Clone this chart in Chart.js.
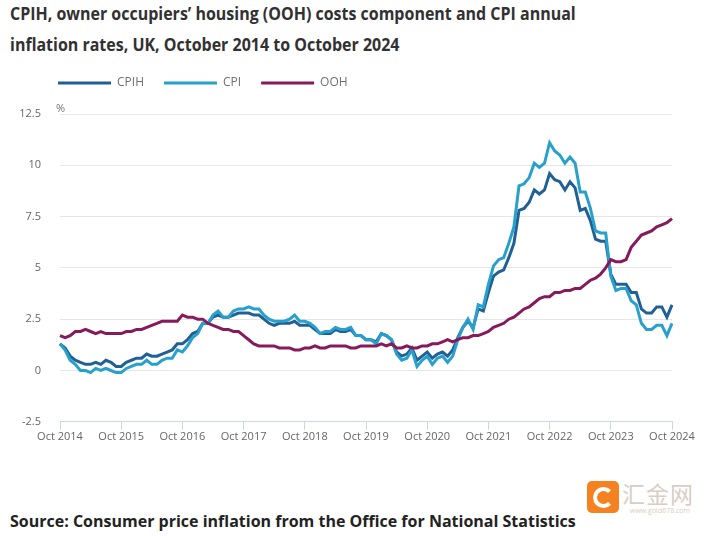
<!DOCTYPE html>
<html>
<head>
<meta charset="utf-8">
<script src="https://cdn.jsdelivr.net/npm/chart.js@4.4.1/dist/chart.umd.min.js"></script>
<style>
  body { margin: 0; background: #fff; font-family: "Open Sans", sans-serif; }
  #page { position: relative; width: 707px; height: 536px; overflow: hidden; }
  #title { position: absolute; left: 10px; top: -2px; margin: 0; font-size: 17px; font-weight: 700; line-height: 31px; color: #323132; white-space: nowrap; transform: scaleX(0.94); transform-origin: 0 0; }
  #wrap { position: absolute; left: 0; top: 55px; width: 707px; height: 400px; }
  #unit { position: absolute; left: 56px; top: 100px; font-size: 11px; color: #707070; }
  #source { position: absolute; left: 10px; top: 510px; font-size: 16px; font-weight: 700; color: #222; }
  #logo { position: absolute; left: 587px; top: 481px; width: 32px; height: 32px; border-radius: 5px; background: #f58220; }
  #logo div { position: absolute; left: 6px; top: 6px; width: 13px; height: 13px; border: 4px solid #fff; border-radius: 50%; border-right-color: transparent; }
  #mark { position: absolute; left: 622px; top: 476px; font-family: "Noto Sans CJK SC", sans-serif; font-size: 23px; color: #d8cec6; letter-spacing: 1px; }
  #markurl { position: absolute; left: 630px; top: 506px; font-size: 7px; color: #d8cec6; }
</style>
</head>
<body>
<div id="page">
  <h1 id="title">CPIH, owner occupiers’ housing (OOH) costs component and CPI annual<br>inflation rates, UK, October 2014 to October 2024</h1>
  <div id="wrap"><canvas id="lineChart"></canvas></div>
  <div id="unit">%</div>
  <div id="logo"><div></div></div>
  <div id="mark">汇金网</div>
  <div id="markurl">www.gold678.com</div>
  <div id="source">Source: Consumer price inflation from the Office for National Statistics</div>
</div>
<script>
const monthNames = ["Jan", "Feb", "Mar", "Apr", "May", "Jun", "Jul", "Aug", "Sep", "Oct", "Nov", "Dec"];
const startYear = 2014;
const startMonth = 9; // October
const monthCount = 121;

// annual rates, %, Oct 2014 .. Oct 2024
const cpih = [
  1.3, 1.1, 0.7,
  0.5, 0.4, 0.3, 0.3, 0.4, 0.3, 0.5, 0.4, 0.2, 0.2, 0.4, 0.5,
  0.6, 0.6, 0.8, 0.7, 0.7, 0.8, 0.9, 1.0, 1.3, 1.3, 1.5, 1.8,
  1.9, 2.3, 2.3, 2.6, 2.7, 2.6, 2.6, 2.7, 2.8, 2.8, 2.8, 2.7,
  2.7, 2.5, 2.3, 2.2, 2.3, 2.3, 2.3, 2.4, 2.2, 2.2, 2.2, 2.0,
  1.8, 1.8, 1.8, 2.0, 1.9, 1.9, 2.0, 1.7, 1.7, 1.5, 1.5, 1.4,
  1.8, 1.7, 1.5, 0.9, 0.7, 0.8, 1.1, 0.5, 0.7, 0.9, 0.6, 0.8,
  0.9, 0.7, 1.0, 1.6, 2.1, 2.4, 2.1, 3.0, 2.9, 3.8, 4.6, 4.8,
  4.9, 5.5, 6.2, 7.8, 7.9, 8.2, 8.8, 8.6, 8.8, 9.6, 9.3, 9.2,
  8.8, 9.2, 8.9, 7.8, 7.9, 7.3, 6.4, 6.3, 6.3, 4.7, 4.2, 4.2,
  4.2, 3.8, 3.8, 3.0, 2.8, 2.8, 3.1, 3.1, 2.6, 3.2
];
const cpi = [
  1.3, 1.0, 0.5,
  0.3, 0.0, 0.0, -0.1, 0.1, 0.0, 0.1, 0.0, -0.1, -0.1, 0.1, 0.2,
  0.3, 0.3, 0.5, 0.3, 0.3, 0.5, 0.6, 0.6, 1.0, 0.9, 1.2, 1.6,
  1.8, 2.3, 2.3, 2.7, 2.9, 2.6, 2.6, 2.9, 3.0, 3.0, 3.1, 3.0,
  3.0, 2.7, 2.5, 2.4, 2.4, 2.4, 2.5, 2.7, 2.4, 2.4, 2.3, 2.1,
  1.8, 1.9, 1.9, 2.1, 2.0, 2.0, 2.1, 1.7, 1.7, 1.5, 1.5, 1.3,
  1.8, 1.7, 1.5, 0.8, 0.5, 0.6, 1.0, 0.2, 0.5, 0.7, 0.3, 0.6,
  0.7, 0.4, 0.7, 1.5, 2.1, 2.5, 2.0, 3.2, 3.1, 4.2, 5.1, 5.4,
  5.5, 6.2, 7.0, 9.0, 9.1, 9.4, 10.1, 9.9, 10.1, 11.1, 10.7, 10.5,
  10.1, 10.4, 10.1, 8.7, 8.7, 7.9, 6.8, 6.7, 6.7, 4.6, 3.9, 4.0,
  4.0, 3.4, 3.2, 2.3, 2.0, 2.0, 2.2, 2.2, 1.7, 2.3
];
const ooh = [
  1.7, 1.6, 1.7,
  1.9, 1.9, 2.0, 1.9, 1.8, 1.9, 1.8, 1.8, 1.8, 1.8, 1.9, 1.9,
  2.0, 2.0, 2.1, 2.2, 2.3, 2.4, 2.4, 2.4, 2.4, 2.7, 2.6, 2.6,
  2.5, 2.5, 2.3, 2.2, 2.1, 2.0, 2.0, 1.9, 1.9, 1.7, 1.5, 1.3,
  1.2, 1.2, 1.2, 1.2, 1.1, 1.1, 1.1, 1.0, 1.0, 1.1, 1.1, 1.2,
  1.1, 1.1, 1.2, 1.2, 1.2, 1.2, 1.1, 1.1, 1.2, 1.2, 1.2, 1.2,
  1.3, 1.2, 1.3, 1.1, 1.1, 1.2, 1.1, 1.1, 1.2, 1.2, 1.3, 1.3,
  1.4, 1.5, 1.4, 1.5, 1.6, 1.6, 1.7, 1.7, 1.8, 1.9, 2.1, 2.2,
  2.3, 2.5, 2.6, 2.8, 3.0, 3.1, 3.3, 3.5, 3.6, 3.6, 3.8, 3.8,
  3.9, 3.9, 4.0, 4.0, 4.2, 4.4, 4.5, 4.7, 5.0, 5.4, 5.3, 5.3,
  5.4, 6.0, 6.3, 6.6, 6.7, 6.8, 7.0, 7.1, 7.2, 7.4
];

const yMin = -2.5;
const yMax = 12.5;
const yStep = 2.5;

const colors = { cpih: "#206095", cpi: "#27a0cc", ooh: "#871a5b" };

const labels = [];
for (let i = 0; i < monthCount; i++) {
  const m = (startMonth + i) % 12;
  const y = startYear + Math.floor((startMonth + i) / 12);
  labels.push(monthNames[m] + " " + y);
}

// move the legend right of the axis labels and leave a gap under it
const legendPlace = {
  id: "legendPlace",
  beforeInit(chart) {
    const fit = chart.legend.fit;
    chart.legend.fit = function () {
      fit.call(this);
      this.height += 15;
    };
  },
  afterLayout(chart) {
    chart.legend.left += 38;
    chart.legend.right += 38;
  },
};

const makeDataset = (label, values, color, order) => ({
  label: label,
  data: values,
  borderColor: color,
  backgroundColor: color,
  borderWidth: 3,
  pointRadius: 0,
  pointHoverRadius: 0,
  tension: 0,
  order: order,
});

const makeChart = () => {
  const ctx = document.getElementById("lineChart");
  const data = {
    labels: labels,
    datasets: [
      makeDataset("CPIH", cpih, colors.cpih, 3),
      makeDataset("CPI", cpi, colors.cpi, 2),
      makeDataset("OOH", ooh, colors.ooh, 1),
    ],
  };
  const config = {
    type: "line",
    data,
    plugins: [legendPlace],
    options: {
      responsive: true,
      maintainAspectRatio: false,
      animation: false,
      layout: { padding: { left: 0, right: 35, top: 2, bottom: 12 } },
      plugins: {
        tooltip: { enabled: false },
        legend: {
          position: "top",
          align: "start",
          labels: {
            boxWidth: 53,
            boxHeight: 3,
            padding: 20,
            color: "#707070",
            font: { family: "Open Sans", size: 12 },
            sort: (a, b) => a.datasetIndex - b.datasetIndex,
            generateLabels: (chart) =>
              Chart.defaults.plugins.legend.labels
                .generateLabels(chart)
                .map((item) => ({ ...item, lineWidth: 0 })),
          },
        },
      },
      scales: {
        x: {
          type: "category",
          offset: false,
          grid: {
            drawOnChartArea: false,
            drawTicks: true,
            tickLength: 8,
            tickColor: (c) => (c.index % 12 === 0 ? "#ccd6eb" : "rgba(0,0,0,0)"),
          },
          border: { color: "#ccd6eb", width: 1 },
          ticks: {
            autoSkip: false,
            maxRotation: 0,
            padding: 0,
            color: "#666666",
            font: { family: "Open Sans", size: 11 },
            callback: (value, index) => (index % 12 === 0 ? labels[index] : ""),
          },
        },
        y: {
          min: yMin,
          max: yMax,
          grid: { color: "#e6e6e6", drawTicks: false },
          border: { display: false },
          ticks: {
            stepSize: yStep,
            padding: 19,
            color: "#666666",
            font: { family: "Open Sans", size: 11 },
          },
          afterFit: (scale) => {
            scale.width = 60;
          },
        },
      },
    },
  };
  return new Chart(ctx, config);
};

makeChart();
</script>
</body>
</html>
